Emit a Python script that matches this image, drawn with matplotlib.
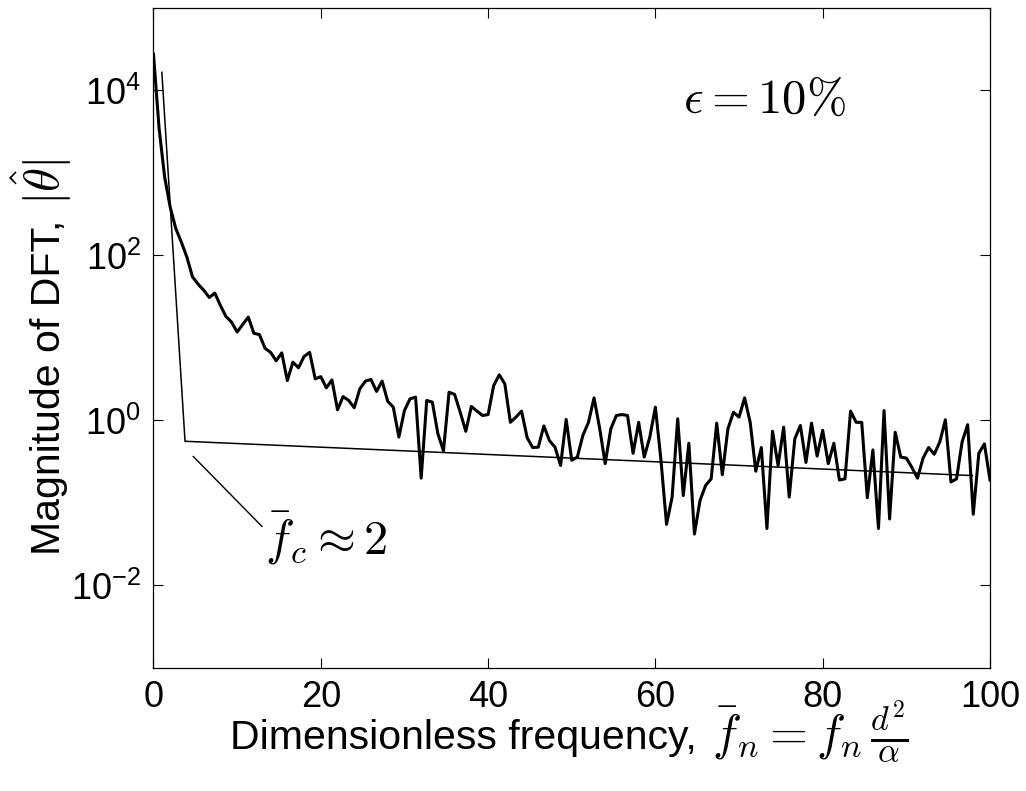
import numpy as np
import matplotlib
matplotlib.use("Agg")
import matplotlib.pyplot as plt

# DFT magnitude, sampled every 2/3 of a dimensionless frequency unit
df = 2 / 3
mag = [
    27500, 3500, 890, 385, 212, 145, 95, 55, 45, 38,
    31, 35, 24.8, 18.2, 15.6, 11.8, 14.6, 17.9, 11.4, 11.0,
    7.5, 6.7, 5.3, 6.6, 3.05, 5.1, 4.35, 5.97, 6.7, 3.2,
    3.4, 2.49, 3.1, 1.35, 1.95, 1.75, 1.43, 2.42, 3.0, 3.14,
    2.25, 3.0, 1.71, 1.45, 0.63, 1.32, 1.83, 1.92, 0.20, 1.75,
    1.67, 0.69, 0.43, 2.2, 2.07, 1.26, 0.74, 1.48, 1.30, 1.15,
    1.18, 2.65, 3.58, 2.78, 0.95, 1.1, 1.3, 0.62, 0.47, 0.475,
    0.86, 0.57, 0.475, 0.285, 1.03, 0.33, 0.36, 0.66, 0.95, 1.88,
    0.81, 0.30, 0.79, 1.15, 1.18, 1.15, 0.40, 0.95, 0.36, 0.63,
    1.45, 0.33, 0.055, 0.118, 1.05, 0.123, 0.53, 0.042, 0.107, 0.163,
    0.196, 0.93, 0.22, 0.79, 1.26, 1.1, 1.88, 0.95, 0.243, 0.47,
    0.049, 0.74, 0.285, 0.83, 0.118, 0.60, 0.87, 0.31, 0.93, 0.37,
    0.76, 0.30, 0.53, 0.19, 0.196, 1.30, 0.95, 0.95, 0.116, 0.44,
    0.049, 1.32, 0.064, 0.72, 0.36, 0.35, 0.27, 0.20, 0.35, 0.47,
    0.39, 0.55, 1.02, 0.18, 0.196, 0.55, 0.89, 0.073, 0.40, 0.52,
    0.19,
]
freq = df * np.arange(len(mag))

# piecewise fit line (thin)
fit_x = [1.0, 3.77, 97.9]
fit_y = [1.66e4, 0.56, 0.215]

# leader line for the cutoff label
lead_x = [4.76, 12.97]
lead_y = [0.366, 0.052]

plt.rcParams["font.family"] = ["Liberation Sans", "DejaVu Sans"]
plt.rcParams["mathtext.fontset"] = "cm"

W, H = 1026, 791
fig = plt.figure(figsize=(W / 100, H / 100), dpi=100)
ax = fig.add_axes([0.1496, 0.1555, 0.8153, 0.8344])

ax.semilogy(freq, mag, color="black", lw=2.2)
ax.semilogy(fit_x, fit_y, color="black", lw=1.1)
ax.plot(lead_x, lead_y, color="black", lw=1.0)

ax.text(13.3, 0.038, r"$\bar{f}_c \approx 2$", fontsize=35, va="center", ha="left")
ax.text(63.3, 7.6e3, r"$\epsilon = 10\%$", fontsize=35, va="center", ha="left")

ax.set_xlim(0, 100)
ax.set_ylim(1e-3, 1e5)
ax.set_xticks([0, 20, 40, 60, 80, 100])
ax.set_yticks([1e-2, 1e0, 1e2, 1e4])
ax.yaxis.set_minor_locator(matplotlib.ticker.NullLocator())
ax.tick_params(direction="in", length=7, width=0.8, labelsize=26,
               top=True, right=True, pad=9)

# axis labels: plain text part and larger math part placed side by side
fig.text(230 / W, 1 - 749 / H, "Dimensionless frequency, ", fontsize=29.5,
         ha="left", va="baseline")
fig.text(712 / W, 1 - 749 / H, r"$\bar{f}_n = f_n\,\frac{d^2}{\alpha}$", fontsize=35,
         ha="left", va="baseline")
fig.text(60 / W, 1 - 555 / H, "Magnitude of DFT, ", fontsize=29.5, rotation=90,
         rotation_mode="anchor", ha="left", va="baseline")
fig.text(60 / W, 1 - 205 / H, r"$|\hat{\theta}|$", fontsize=35, rotation=90,
         rotation_mode="anchor", ha="left", va="baseline")

for s in ax.spines.values():
    s.set_linewidth(0.9)

fig.savefig("out.png", dpi=100)
